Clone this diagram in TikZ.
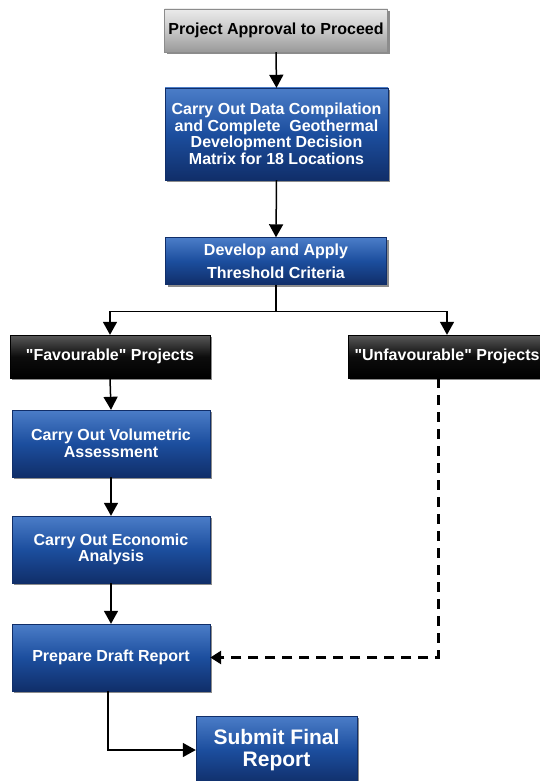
\documentclass[tikz,border=0pt]{standalone}
\usepackage{fontspec}
\setmainfont{Liberation Sans}
\usetikzlibrary{arrows.meta,shadows,calc}

\definecolor{boxtop}{RGB}{75,125,200}
\definecolor{boxmid}{RGB}{28,78,158}
\definecolor{boxbottom}{RGB}{16,46,105}

\begin{document}
\begin{tikzpicture}[x=1pt, y=-1pt]
            \tikzstyle{box} = [rectangle, align=center, inner sep=3pt, font=\bfseries\fontsize{16}{16.5}\selectfont, drop shadow={shadow xshift=2pt, shadow yshift=-2pt, opacity=0.45, fill=black}]
            \tikzstyle{bluebox} = [box, text=white, top color=boxtop, bottom color=boxbottom, middle color=boxmid, draw=boxbottom]
            \tikzstyle{greybox} = [box, text=black, top color=black!8, bottom color=black!40, middle color=black!22, draw=black!45]
            \tikzstyle{blackbox} = [box, text=white, top color=black!65, bottom color=black, middle color=black!95, draw=black]
            \tikzstyle{flow} = [line width=1.5pt, -{Triangle[length=13pt, width=14pt]}]
            \tikzstyle{back} = [line width=3pt, dash pattern=on 10pt off 7pt, -{Triangle[length=11pt, width=13pt]}]
            \useasboundingbox (0, 0) rectangle (540, 781);
            \node[greybox, minimum width=223, minimum height=43] (approve) at (276, 30.5) {Project Approval to Proceed};
            \node[bluebox, minimum width=223, minimum height=92] (compile) at (276.5, 134) {Carry Out Data Compilation\\and Complete\ \ Geothermal\\Development Decision\\Matrix for 18 Locations};
            \node[bluebox, minimum width=221, minimum height=47, inner sep=1pt, font=\bfseries\fontsize{16}{23}\selectfont] (thresh) at (276, 261) {Develop and Apply\\Threshold Criteria};
            \node[blackbox, minimum width=200, minimum height=43] (fav) at (110, 356.5) {\textquotedbl Favourable\textquotedbl\ Projects};
            \node[blackbox, minimum width=198, minimum height=43] (unfav) at (447, 356.5) {\textquotedbl Unfavourable\textquotedbl\ Projects};
            \node[bluebox, minimum width=198, minimum height=67] (vol) at (111, 443.5) {Carry Out Volumetric\\Assessment};
            \node[bluebox, minimum width=198, minimum height=67] (econ) at (111, 549.5) {Carry Out Economic\\Analysis};
            \node[bluebox, minimum width=198, minimum height=67] (draft) at (111, 657.5) {Prepare Draft Report};
            \node[bluebox, minimum width=161, minimum height=68, font=\bfseries\fontsize{21}{22}\selectfont] (submit) at (276.5, 750) {Submit Final\\Report};
            \draw[flow] (approve.south) -- (compile.north);
            \draw[flow] (compile.south) -- (thresh.north);
            \draw[line width=1.5pt] (thresh.south) -- ++(0, 27) coordinate (split);
            \draw[flow] (split) -| (fav.north);
            \draw[flow] (split) -| (unfav.north);
            \draw[flow] (fav.south) -- (vol.north);
            \draw[flow] (vol.south) -- (econ.north);
            \draw[flow] (econ.south) -- (draft.north);
            \draw[flow] ($(draft.south)+(-3, 0)$) |- (submit.west);
            \draw[back] ($(unfav.south)+(-9, 0)$) |- (draft.east);
        \end{tikzpicture}
\end{document}
